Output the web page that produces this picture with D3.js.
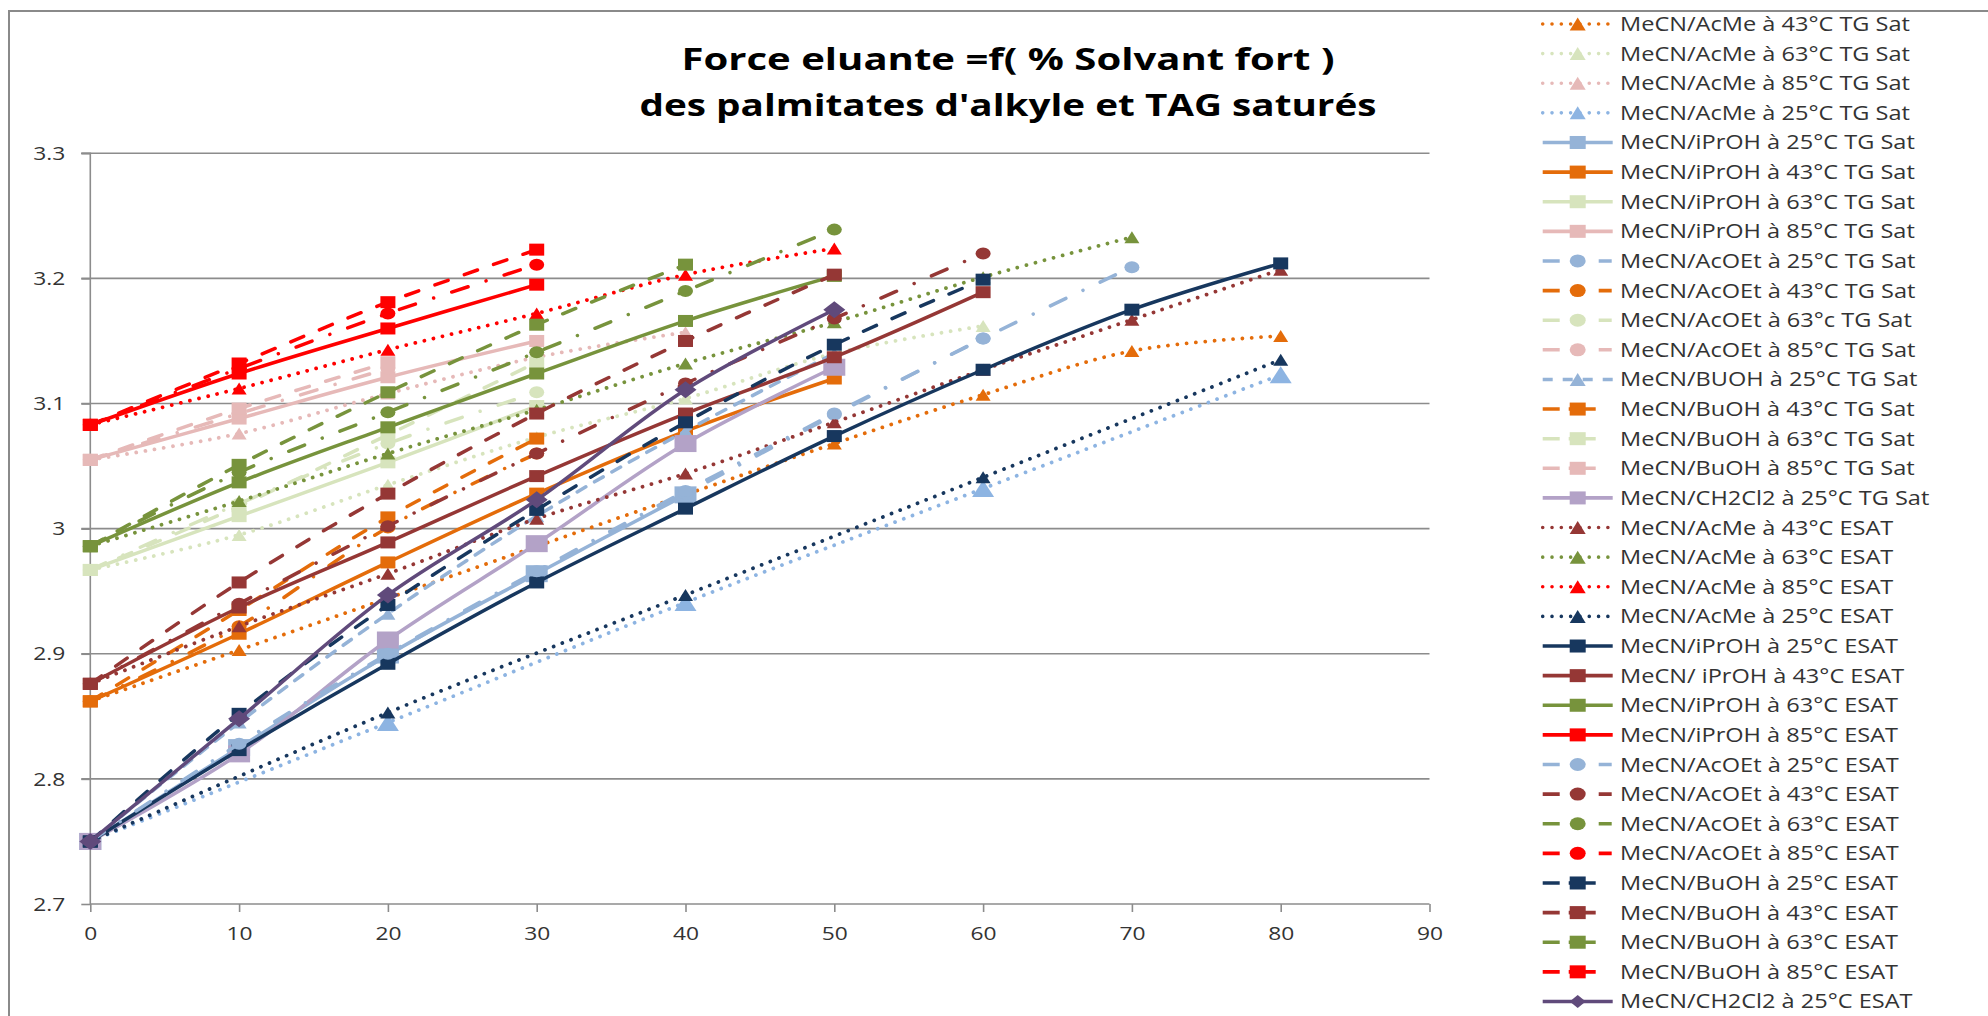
<!DOCTYPE html>
<html><head><meta charset="utf-8">
<script src="https://cdn.jsdelivr.net/npm/d3@7"></script>
<style>body{margin:0;background:#fff;} svg{display:block;}</style>
</head><body>
<svg id="chart" width="1988" height="1016"></svg>
<script>
// ---------------- DATA ----------------
const titleLines = ["Force eluante =f( % Solvant fort )", "des palmitates d'alkyle et TAG saturés"];
const xTicks = [0, 10, 20, 30, 40, 50, 60, 70, 80, 90];
const yTicks = [2.7, 2.8, 2.9, 3.0, 3.1, 3.2, 3.3];
const yTickLabels = ["2.7", "2.8", "2.9", "3", "3.1", "3.2", "3.3"];

const pctSteps = [0, 10, 20, 30, 40, 50, 60, 70, 80];
const pctAcMe43TG = [0, 10, 50, 60, 70, 80];
const pctAcMe25 = [0, 20, 40, 60, 80];

// TG Sat series
const acMe43TG  = [2.862, 2.903, 3.068, 3.107, 3.142, 3.154];
const acMe63TG  = [2.967, 2.995, 3.035, 3.073, 3.104, 3.140, 3.162];
const acMe85TG  = [3.055, 3.076, 3.108, 3.137, 3.157];
const acMe25TG  = [2.750, 2.845, 2.941, 3.032, 3.123];
const iPrOH25TG = [2.750, 2.825, 2.899, 2.964, 3.027];
const iPrOH43TG = [2.862, 2.916, 2.973, 3.028, 3.078, 3.120];
const iPrOH63TG = [2.967, 3.010, 3.053, 3.098];
const iPrOH85TG = [3.055, 3.088, 3.121, 3.150];
const acOEt25TG = [2.750, 2.827, 2.899, 2.965, 3.028, 3.091, 3.152, 3.209];
const acOEt43TG = [2.862, 2.922, 3.001, 3.060];
const acOEt63TG = [2.967, 3.020, 3.068, 3.109];
const acOEt85TG = [3.055, 3.092, 3.128];
const buOH25TG  = [2.750, 2.845, 2.932, 3.010, 3.078, 3.140];
const buOH43TG  = [2.862, 2.935, 3.009, 3.072];
const buOH63TG  = [2.967, 3.018, 3.075, 3.133];
const buOH85TG  = [3.055, 3.096, 3.133];
const ch2cl2TG  = [2.750, 2.820, 2.911, 2.988, 3.068, 3.129];
// ESAT series
const acMe43E  = [2.876, 2.922, 2.964, 3.008, 3.044, 3.085, 3.127, 3.167, 3.207];
const acMe63E  = [2.986, 3.022, 3.060, 3.095, 3.132, 3.165, 3.201, 3.233];
const acMe85E  = [3.083, 3.112, 3.143, 3.172, 3.203, 3.224];
const acMe25E  = [2.750, 2.853, 2.947, 3.041, 3.135];
const iPrOH25E = [2.750, 2.823, 2.892, 2.957, 3.016, 3.074, 3.127, 3.175, 3.212];
const iPrOH43E = [2.876, 2.937, 2.989, 3.042, 3.092, 3.137, 3.189];
const iPrOH63E = [2.986, 3.037, 3.081, 3.124, 3.166, 3.202];
const iPrOH85E = [3.083, 3.124, 3.160, 3.195];
const acOEt25E = [2.750, 2.828, 2.900, 2.966, 3.030, 3.092, 3.152];
const acOEt43E = [2.876, 2.940, 3.002, 3.060, 3.116, 3.168, 3.220];
const acOEt63E = [2.986, 3.045, 3.093, 3.141, 3.190, 3.239];
const acOEt85E = [3.083, 3.128, 3.172, 3.211];
const buOH25E  = [2.750, 2.852, 2.939, 3.015, 3.085, 3.147, 3.199];
const buOH43E  = [2.876, 2.957, 3.028, 3.092, 3.150, 3.203];
const buOH63E  = [2.986, 3.051, 3.109, 3.163, 3.211];
const buOH85E  = [3.083, 3.132, 3.181, 3.223];
const ch2cl2E  = [2.750, 2.848, 2.947, 3.023, 3.111, 3.175];

const seriesNames = [
  "MeCN/AcMe à 43°C TG Sat","MeCN/AcMe à 63°C TG Sat","MeCN/AcMe à 85°C TG Sat","MeCN/AcMe à 25°C TG Sat",
  "MeCN/iPrOH à 25°C TG Sat","MeCN/iPrOH à 43°C TG Sat","MeCN/iPrOH à 63°C TG Sat","MeCN/iPrOH à 85°C TG Sat",
  "MeCN/AcOEt à 25°C TG Sat","MeCN/AcOEt à 43°C TG Sat","MeCN/AcOEt à 63°c TG Sat","MeCN/AcOEt à 85°C TG Sat",
  "MeCN/BUOH à 25°C TG Sat","MeCN/BuOH à 43°C TG Sat","MeCN/BuOH à 63°C TG Sat","MeCN/BuOH à 85°C TG Sat",
  "MeCN/CH2Cl2 à 25°C TG Sat",
  "MeCN/AcMe à 43°C ESAT","MeCN/AcMe à 63°C ESAT","MeCN/AcMe à 85°C ESAT","MeCN/AcMe à 25°C ESAT",
  "MeCN/iPrOH à 25°C ESAT","MeCN/ iPrOH à 43°C ESAT","MeCN/iPrOH à 63°C ESAT","MeCN/iPrOH à 85°C ESAT",
  "MeCN/AcOEt à 25°C ESAT","MeCN/AcOEt à 43°C ESAT","MeCN/AcOEt à 63°C ESAT","MeCN/AcOEt à 85°C ESAT",
  "MeCN/BuOH à 25°C ESAT","MeCN/BuOH à 43°C ESAT","MeCN/BuOH à 63°C ESAT","MeCN/BuOH à 85°C ESAT",
  "MeCN/CH2Cl2 à 25°C ESAT"
];
const seriesValues = [
  acMe43TG, acMe63TG, acMe85TG, acMe25TG,
  iPrOH25TG, iPrOH43TG, iPrOH63TG, iPrOH85TG,
  acOEt25TG, acOEt43TG, acOEt63TG, acOEt85TG,
  buOH25TG, buOH43TG, buOH63TG, buOH85TG,
  ch2cl2TG,
  acMe43E, acMe63E, acMe85E, acMe25E,
  iPrOH25E, iPrOH43E, iPrOH63E, iPrOH85E,
  acOEt25E, acOEt43E, acOEt63E, acOEt85E,
  buOH25E, buOH43E, buOH63E, buOH85E,
  ch2cl2E
];
const seriesPct = seriesValues.map((v, i) =>
  i === 0 ? pctAcMe43TG : (i === 3 || i === 20) ? pctAcMe25 : pctSteps.slice(0, v.length));
const seriesSolvent = [
  "AcMe","AcMe","AcMe","AcMe","iPrOH","iPrOH","iPrOH","iPrOH","AcOEt","AcOEt","AcOEt","AcOEt",
  "BuOH","BuOH","BuOH","BuOH","CH2Cl2",
  "AcMe","AcMe","AcMe","AcMe","iPrOH","iPrOH","iPrOH","iPrOH","AcOEt","AcOEt","AcOEt","AcOEt",
  "BuOH","BuOH","BuOH","BuOH","CH2Cl2"];
const seriesTemp = [43,63,85,25, 25,43,63,85, 25,43,63,85, 25,43,63,85, 25,
                    43,63,85,25, 25,43,63,85, 25,43,63,85, 25,43,63,85, 25];
const seriesType = seriesNames.map(n => n.indexOf("ESAT") >= 0 ? "ESAT" : "TG");

// ---------------- STYLES ----------------
const colorTG   = {25: "#95B3D7", 43: "#E46C0A", 63: "#D7E4BD", 85: "#E6B9B8"};
const colorESAT = {25: "#17375E", 43: "#953735", 63: "#77933C", 85: "#FF0000"};
function colorOf(i) {
  if (seriesSolvent[i] === "CH2Cl2") return seriesType[i] === "TG" ? "#B3A2C7" : "#604A7B";
  if (i === 3) return "#8DB4E2";
  if (i === 25) return "#95B3D7";
  return seriesType[i] === "TG" ? colorTG[seriesTemp[i]] : colorESAT[seriesTemp[i]];
}
function shapeOf(i) {
  const s = seriesSolvent[i];
  if (s === "AcMe") return "tri";
  if (s === "AcOEt") return "circ";
  if (s === "BuOH") return (i === 12) ? "tri" : "sq";
  if (s === "CH2Cl2") return seriesType[i] === "TG" ? "sq" : "dia";
  return "sq";
}
const bigMarkers = new Set([3, 4, 16, 33]);
function dashOf(i) {
  const s = seriesSolvent[i];
  if (s === "AcMe") return {w: 3.8, dash: "0.01,9.3"};
  if (s === "AcOEt") return {w: 3.5, dash: "17,19,0.01,19"};
  if (s === "BuOH") return {w: 3.5, dash: i === 12 ? "10,10" : "14,17"};
  return {w: 3.5, dash: null};
}
function legendDashOf(i) {
  const s = seriesSolvent[i];
  if (s === "AcMe") return "0.01,9.3";
  if (s === "AcOEt") return "17,39,13,100";
  if (s === "BuOH") return i === 12 ? "10,10" : "17,9,27,100";
  return null;
}

// ---------------- DRAW ----------------
const svg = d3.select("#chart");
const FONT = "'Open Sans', 'Noto Sans', sans-serif";
const x = d3.scaleLinear().domain([0, 90]).range([90.3, 1429.5]);
const y = d3.scaleLinear().domain([2.7, 3.3]).range([904, 153.3]);

// outer chart border (only top/left visible)
svg.append("rect").attr("x", 9).attr("y", 11).attr("width", 2200).attr("height", 1200)
  .attr("fill", "none").attr("stroke", "#8a8a8a").attr("stroke-width", 2);

// title
const tWidths = [653, 737];
const tBase = [70, 116];
titleLines.forEach((t, k) => {
  svg.append("text").attr("x", 1008).attr("y", tBase[k]).attr("text-anchor", "middle")
    .attr("font-family", FONT).attr("font-weight", 700).attr("font-size", 30)
    .attr("textLength", tWidths[k]).attr("lengthAdjust", "spacingAndGlyphs")
    .attr("fill", "#000").text(t);
});

// gridlines
svg.append("g").selectAll("line").data(yTicks.slice(1)).join("line")
  .attr("x1", x(0) - 9).attr("x2", x(90)).attr("y1", d => y(d)).attr("y2", d => y(d))
  .attr("stroke", "#8c8c8c").attr("stroke-width", 1.6);

// axes
const yAxis = d3.axisLeft(y).tickValues(yTicks).tickSize(9).tickPadding(0)
  .tickFormat((d, i) => yTickLabels[i]);
const gy = svg.append("g").attr("transform", `translate(${x(0)},0)`).call(yAxis);
const xAxis = d3.axisBottom(x).tickValues(xTicks).tickSize(8).tickPadding(0);
const gx = svg.append("g").attr("transform", `translate(0,${y(2.7)})`).call(xAxis);
[gx, gy].forEach(g => {
  g.select(".domain").attr("stroke", "#8c8c8c").attr("stroke-width", 1.6);
  g.selectAll(".tick line").attr("stroke", "#8c8c8c").attr("stroke-width", 1.6);
  g.selectAll("text").attr("font-family", FONT).attr("font-size", 18).attr("fill", "#333");
});
gy.select(".domain").attr("d", `M-9,${y(3.3)}H0V${y(2.7)}`);
gx.select(".domain").attr("d", `M${x(0)},0H${x(90)}`);
gy.selectAll("text").attr("x", -25).attr("dy", "0.34em").attr("text-anchor", "end");
gx.selectAll("text").attr("y", 29.5).attr("dy", "0.36em");

// stretch tick labels horizontally like the reference
let kTick = 1;
gy.selectAll("text").each(function(d) {
  if (d === 3.3) kTick = 32 / this.getComputedTextLength();
});
[gx, gy].forEach(g => g.selectAll("text").each(function() {
  const w = this.getComputedTextLength();
  d3.select(this).attr("textLength", w * kTick).attr("lengthAdjust", "spacingAndGlyphs");
}));

function drawMarker(g, shape, cx, cy, w, h, color) {
  if (shape === "sq") {
    g.append("rect").attr("x", cx - w / 2).attr("y", cy - h / 2).attr("width", w).attr("height", h).attr("fill", color);
  } else if (shape === "circ") {
    g.append("ellipse").attr("cx", cx).attr("cy", cy).attr("rx", w / 2).attr("ry", h / 2).attr("fill", color);
  } else if (shape === "tri") {
    g.append("path").attr("d", `M${cx},${cy - h / 2}L${cx + w / 2},${cy + h / 2}L${cx - w / 2},${cy + h / 2}Z`).attr("fill", color);
  } else if (shape === "dia") {
    g.append("path").attr("d", `M${cx},${cy - h / 2}L${cx + w / 2},${cy}L${cx},${cy + h / 2}L${cx - w / 2},${cy}Z`).attr("fill", color);
  }
}

const line = d3.line().x(d => x(d[0])).y(d => y(d[1])).curve(d3.curveCatmullRom.alpha(0.5));
const plot = svg.append("g");
seriesValues.forEach((vals, i) => {
  const pts = vals.map((v, j) => [seriesPct[i][j], v]);
  const col = colorOf(i);
  const st = dashOf(i);
  const g = plot.append("g");
  const p = g.append("path").attr("d", line(pts)).attr("fill", "none")
    .attr("stroke", col).attr("stroke-width", st.w).attr("stroke-linejoin", "round");
  if (st.dash) p.attr("stroke-dasharray", st.dash).attr("stroke-linecap", "round");
  const big = bigMarkers.has(i);
  const w = big ? 22 : 15, h = big ? 17 : 12;
  pts.forEach(pt => drawMarker(g, shapeOf(i), x(pt[0]), y(pt[1]), w, h, col));
});

// legend
const lg = svg.append("g");
const legY0 = 24, legStep = 29.62;
let kLeg = 1;
seriesNames.forEach((name, i) => {
  const cy = legY0 + i * legStep;
  const col = colorOf(i);
  const l = lg.append("line").attr("x1", 1542.7).attr("x2", 1612.7).attr("y1", cy).attr("y2", cy)
    .attr("stroke", col).attr("stroke-width", 3.6);
  const ld = legendDashOf(i);
  if (ld) l.attr("stroke-dasharray", ld).attr("stroke-linecap", seriesSolvent[i] === "AcMe" ? "round" : "butt");
  drawMarker(lg, shapeOf(i), 1577.7, cy, 16, 13, col);
  const t = lg.append("text").attr("x", 1620).attr("y", cy + 7).attr("font-family", FONT)
    .attr("font-size", 20).attr("fill", "#333").text(name);
  if (i === 0) kLeg = 290 / t.node().getComputedTextLength();
  t.attr("textLength", t.node().getComputedTextLength() * kLeg).attr("lengthAdjust", "spacingAndGlyphs");
});
</script>
</body></html>
